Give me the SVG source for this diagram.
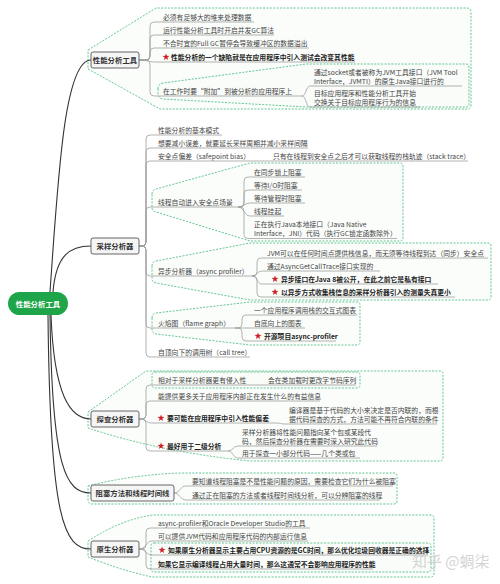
<svg xmlns="http://www.w3.org/2000/svg" width="500" height="584" viewBox="0 0 500 584">
<defs>
<style>
.t{font-family:"Noto Sans CJK SC","Noto Sans",sans-serif;font-size:6.8px;fill:#444}
.b{font-weight:bold;fill:#222}
.ul{stroke:#a0a0a0;stroke-width:0.8;fill:none}
.cn{stroke:#a0a0a0;stroke-width:0.8;fill:none}
.main{stroke:#333;stroke-width:1.1;fill:none}
.bd{stroke:#3cb878;stroke-width:0.8;stroke-dasharray:2 1.4;fill:#f8fcf9;fill-opacity:0.6}
.box{fill:#f5f5f5;stroke:#666;stroke-width:1}
.bt{font-family:"Noto Sans CJK SC","Noto Sans",sans-serif;font-size:7.4px;font-weight:bold;fill:#333;text-anchor:middle}
.star{fill:#d0202a}
</style>
<polygon id="star" points="0,-3.6 0.85,-1.17 3.42,-1.11 1.38,0.45 2.12,2.91 0,1.45 -2.12,2.91 -1.38,0.45 -3.42,-1.11 -0.85,-1.17"/>
</defs>
<rect width="500" height="584" fill="#fff"/>

<g id="boundaries">
<path class="bd" d="M88 50 L156 8 H467 Q471 8 471 12 V105 Q471 109 467 109 H160 L88 69 Z"/>
<path class="bd" d="M158 89 Q158 84 163 83 L306 64 H466 Q469 64 469 67 V104 Q469 107 466 107 H306 L163 99 Q158 98 158 94 Z"/>
<path class="bd" d="M152 194 Q152 190 156 189 L250 163 H400 Q403 163 403 166 V238 Q403 241 400 241 H250 L156 212 Q152 211 152 208 Z"/>
<path class="bd" d="M152 266 Q152 262 156 261 L250 243 H488 Q491 243 491 246 V297 Q491 300 488 300 H250 L156 283 Q152 282 152 279 Z"/>
<path class="bd" d="M152 318 Q152 314 156 313 L250 302 H357 Q360 302 360 305 V342 Q360 345 357 345 H250 L156 334 Q152 333 152 330 Z"/>
<path class="bd" d="M88 412 L146 371 H440 Q443 371 443 374 V458 Q443 461 440 461 H250 Q160 452 88 428 Z"/>
<path class="bd" d="M155 372 H357 Q360 372 360 375 V385 Q360 388 357 388 H155 Q152 388 152 385 V375 Q152 372 155 372 Z"/>
<path class="bd" d="M88 486 Q130 475 180 473 H394 Q397 473 397 476 V501 Q397 504 394 504 H92 Q88 504 88 500 Z"/>
<path class="bd" d="M88 541 Q120 520 152 515 H430 Q434 515 434 518 V574 Q434 577 430 577 H152 Q120 570 88 557 Z"/>
<path class="bd" d="M154 543 H428 Q431 543 431 546 V569 Q431 572 428 572 H154 Q151 572 151 569 V546 Q151 543 154 543 Z"/>
</g>

<g id="connectors">
<path class="main" d="M50 292 C58 180 64 60 91 60"/>
<path class="main" d="M53 292 C56 255 70 246 91 246"/>
<path class="main" d="M51 315 C54 395 70 419 91 419"/>
<path class="main" d="M50 315 C52 470 66 493 91 493"/>
<path class="main" d="M48 315 C50 520 64 549 91 549"/>
<path class="cn" d="M139 60 H146 Q150 60 150 56 V26 Q150 22 154 22 H156"/>
<path class="cn" d="M139 60 H146 Q150 60 150 56 V39 Q150 35 154 35 H156"/>
<path class="cn" d="M139 60 H146 Q150 60 150 56 V52 Q150 48 154 48 H156"/>
<path class="cn" d="M139 60 C148 60 148 62 156 62"/>
<path class="cn" d="M139 60 H146 Q150 60 150 64 V92 Q150 96 154 96 H156"/>
<path class="cn" d="M302 96 C306 96 306 86 310 86"/>
<path class="cn" d="M302 96 C306 96 306 107 310 107"/>
<path class="cn" d="M139 246 H142 Q146 246 146 242 V139 Q146 135 150 135 H152"/>
<path class="cn" d="M139 246 H142 Q146 246 146 242 V152 Q146 148 150 148 H152"/>
<path class="cn" d="M139 246 H142 Q146 246 146 242 V165 Q146 161 150 161 H152"/>
<path class="cn" d="M139 246 H142 Q146 246 146 242 V211 Q146 207 150 207 H152"/>
<path class="cn" d="M139 246 H142 Q146 246 146 250 V272 Q146 276 150 276 H152"/>
<path class="cn" d="M139 246 H142 Q146 246 146 250 V324 Q146 328 150 328 H152"/>
<path class="cn" d="M139 246 H142 Q146 246 146 250 V353 Q146 357 150 357 H152"/>
<path class="cn" d="M252 161 H262"/>
<path class="cn" d="M238 207 H240 Q244 207 244 203 V181 Q244 177 248 177 H250"/>
<path class="cn" d="M238 207 H240 Q244 207 244 203 V194 Q244 190 248 190 H250"/>
<path class="cn" d="M238 207 C243 207 245 203 250 203"/>
<path class="cn" d="M238 207 C244 207 244 216 250 216"/>
<path class="cn" d="M238 207 H240 Q244 207 244 211 V234.5 Q244 238.5 248 238.5 H250"/>
<path class="cn" d="M252 276 H253 Q257 276 257 272 V262 Q257 258 261 258 H262"/>
<path class="cn" d="M252 276 C257 276 257 271 262 271"/>
<path class="cn" d="M252 276 C257 276 257 284 262 284"/>
<path class="cn" d="M252 276 H253 Q257 276 257 280 V293 Q257 297 261 297 H262"/>
<path class="cn" d="M235 328 H238 Q242 328 242 324 V319 Q242 315 246 315 H249"/>
<path class="cn" d="M235 328 H249"/>
<path class="cn" d="M235 328 H238 Q242 328 242 332 V337 Q242 341 246 341 H249"/>
<path class="cn" d="M139 419 H142 Q146 419 146 415 V389 Q146 385 150 385 H152"/>
<path class="cn" d="M139 419 H142 Q146 419 146 415 V405 Q146 401 150 401 H152"/>
<path class="cn" d="M139 419 C146 419 146 423 152 423"/>
<path class="cn" d="M139 419 H142 Q146 419 146 423 V447 Q146 451 150 451 H152"/>
<path class="cn" d="M248 385 H262"/>
<path class="cn" d="M276 423 C280 423 281 424 285 424"/>
<path class="cn" d="M228 451 C233 451 233 446 238 446"/>
<path class="cn" d="M228 451 C233 451 233 458 238 458"/>
<path class="cn" d="M174 493 C180 493 180 486 186 486"/>
<path class="cn" d="M174 493 C180 493 180 500 186 500"/>
<path class="cn" d="M139 549 H142 Q146 549 146 545 V532 Q146 528 150 528 H152"/>
<path class="cn" d="M139 549 C146 549 146 541 152 541"/>
<path class="cn" d="M139 549 C146 549 146 555 152 555"/>
<path class="cn" d="M139 549 H142 Q146 549 146 553 V565 Q146 569 150 569 H152"/>
</g>

<g id="n-root">
<rect x="8" y="292" width="60" height="23" rx="11.5" fill="#1fa549"/>
<text x="38" y="306.5" class="bt" style="fill:#fff">性能分析工具</text>
</g>

<g id="n-b1">
<rect class="box" x="91" y="52" width="48" height="16" rx="2"/>
<text x="115" y="62.7" class="bt">性能分析工具</text>
</g>
<g id="n-b1-1"><text class="t" x="163" y="19.5">必须有足够大的堆来处理数据</text><path class="ul" d="M156 22 H254"/></g>
<g id="n-b1-2"><text class="t" x="163" y="32.5">运行性能分析工具时开启并发GC算法</text><path class="ul" d="M156 35 H274"/></g>
<g id="n-b1-3"><text class="t" x="163" y="45.5">不合时宜的Full GC暂停会导致缓冲区的数据溢出</text><path class="ul" d="M156 48 H309"/></g>
<g id="n-b1-4"><use href="#star" class="star" x="166" y="57"/><text class="t b" x="171" y="59.5">性能分析的一个缺陷就是在应用程序中引入测试会改变其性能</text><path class="ul" d="M156 62 H355"/></g>
<g id="n-b1-5"><text class="t" x="163" y="93.5">在工作时要“附加”到被分析的应用程序上</text><path class="ul" d="M156 96 H302"/></g>
<g id="n-b1-5-1"><text class="t" x="314" y="74.5">通过socket或者被称为JVM工具接口（JVM Tool</text><text class="t" x="314" y="83.5">Interface，JVMTI）的原生Java接口进行的</text><path class="ul" d="M310 86 H462"/></g>
<g id="n-b1-5-2"><text class="t" x="314" y="95.5">目标应用程序和性能分析工具开始</text><text class="t" x="314" y="104.5">交换关于目标应用程序行为的信息</text><path class="ul" d="M310 107 H420"/></g>

<g id="n-b2">
<rect class="box" x="91" y="238" width="48" height="16" rx="2"/>
<text x="115" y="248.7" class="bt">采样分析器</text>
</g>
<g id="n-b2-1"><text class="t" x="158" y="132.5">性能分析的基本模式</text><path class="ul" d="M152 135 H222"/></g>
<g id="n-b2-2"><text class="t" x="158" y="145.5">想要减小误差，就要延长采样周期并减小采样间隔</text><path class="ul" d="M152 148 H308"/></g>
<g id="n-b2-3"><text class="t" x="158" y="158.5">安全点偏差（safepoint bias）</text><path class="ul" d="M152 161 H252"/></g>
<g id="n-b2-3-1"><text class="t" x="273" y="158.5">只有在线程到安全点之后才可以获取线程的栈轨迹（stack trace）</text><path class="ul" d="M262 161 H468"/></g>
<g id="n-b2-4"><text class="t" x="158" y="204.5">线程自动进入安全点场景</text><path class="ul" d="M152 207 H238"/></g>
<g id="n-b2-4-1"><text class="t" x="254" y="174.5">在同步锁上阻塞</text><path class="ul" d="M250 177 H305"/></g>
<g id="n-b2-4-2"><text class="t" x="254" y="187.5">等待I/O时阻塞</text><path class="ul" d="M250 190 H302"/></g>
<g id="n-b2-4-3"><text class="t" x="254" y="200.5">等待管程时阻塞</text><path class="ul" d="M250 203 H305"/></g>
<g id="n-b2-4-4"><text class="t" x="254" y="213.5">线程挂起</text><path class="ul" d="M250 216 H284"/></g>
<g id="n-b2-4-5"><text class="t" x="254" y="226.5">正在执行Java本地接口（Java Native</text><text class="t" x="254" y="235.5">Interface，JNI）代码（执行GC锁定函数除外）</text><path class="ul" d="M250 238.5 H397"/></g>
<g id="n-b2-5"><text class="t" x="158" y="273.5">异步分析器（async profiler）</text><path class="ul" d="M152 276 H252"/></g>
<g id="n-b2-5-1"><text class="t" x="267" y="255.5">JVM可以在任何时间点提供栈信息，而无须等待线程到达（同步）安全点</text><path class="ul" d="M262 258 H488"/></g>
<g id="n-b2-5-2"><text class="t" x="267" y="268.5">通过AsyncGetCallTrace接口实现的</text><path class="ul" d="M262 271 H380"/></g>
<g id="n-b2-5-3"><use href="#star" class="star" x="275" y="279"/><text class="t b" x="281" y="281.5">异步接口在Java 8被公开，在此之前它是私有接口</text><path class="ul" d="M262 284 H438"/></g>
<g id="n-b2-5-4"><use href="#star" class="star" x="275" y="292"/><text class="t b" x="281" y="294.5">以异步方式收集栈信息的采样分析器引入的测量失真更小</text><path class="ul" d="M262 297 H455"/></g>
<g id="n-b2-6"><text class="t" x="158" y="325.5">火焰图（flame graph）</text><path class="ul" d="M152 328 H235"/></g>
<g id="n-b2-6-1"><text class="t" x="254" y="312.5">一个应用程序调用栈的交互式图表</text><path class="ul" d="M249 315 H357"/></g>
<g id="n-b2-6-2"><text class="t" x="254" y="325.5">自底向上的图表</text><path class="ul" d="M249 328 H305"/></g>
<g id="n-b2-6-3"><use href="#star" class="star" x="258" y="336"/><text class="t b" x="264" y="338.5">开源项目async-profiler</text><path class="ul" d="M249 341 H336"/></g>
<g id="n-b2-7"><text class="t" x="158" y="354.5">自顶向下的调用树（call tree）</text><path class="ul" d="M152 357 H250"/></g>

<g id="n-b3">
<rect class="box" x="91" y="411" width="48" height="16" rx="2"/>
<text x="115" y="421.7" class="bt">探查分析器</text>
</g>
<g id="n-b3-1"><text class="t" x="158" y="382.5">相对于采样分析器更有侵入性</text><path class="ul" d="M152 385 H248"/></g>
<g id="n-b3-1-1"><text class="t" x="268" y="382.5">会在类加载时更改字节码序列</text><path class="ul" d="M262 385 H356"/></g>
<g id="n-b3-2"><text class="t" x="158" y="398.5">能提供更多关于应用程序内部正在发生什么的有益信息</text><path class="ul" d="M152 401 H320"/></g>
<g id="n-b3-3"><use href="#star" class="star" x="161" y="418"/><text class="t b" x="167" y="420.5">要可能在应用程序中引入性能偏差</text><path class="ul" d="M152 423 H276"/></g>
<g id="n-b3-3-1"><text class="t" x="289" y="412.5">编译器是基于代码的大小来决定是否内联的，而根</text><text class="t" x="289" y="421.5">据代码探查的方式，方法可能不再符合内联的条件</text><path class="ul" d="M285 424 H437"/></g>
<g id="n-b3-4"><use href="#star" class="star" x="161" y="446"/><text class="t b" x="167" y="448.5">最好用于二级分析</text><path class="ul" d="M152 451 H228"/></g>
<g id="n-b3-4-1"><text class="t" x="242" y="434.5">采样分析器将性能问题指向某个包或某段代</text><text class="t" x="242" y="443.5">码，然后探查分析器在需要时深入研究此代码</text><path class="ul" d="M238 446 H377"/></g>
<g id="n-b3-4-2"><text class="t" x="242" y="455.5">用于探查一小部分代码——几个类或包</text><path class="ul" d="M238 458 H360"/></g>

<g id="n-b4">
<rect class="box" x="91" y="485" width="83" height="16" rx="2"/>
<text x="132.5" y="495.7" class="bt">阻塞方法和线程时间线</text>
</g>
<g id="n-b4-1"><text class="t" x="192" y="483.5">要知道线程阻塞是不是性能问题的原因，需要检查它们为什么被阻塞</text><path class="ul" d="M186 486 H393"/></g>
<g id="n-b4-2"><text class="t" x="192" y="497.5">通过正在阻塞的方法或者线程时间线分析，可以分辨阻塞的线程</text><path class="ul" d="M186 500 H380"/></g>

<g id="n-b5">
<rect class="box" x="91" y="541" width="48" height="16" rx="2"/>
<text x="115" y="551.7" class="bt">原生分析器</text>
</g>
<g id="n-b5-1"><text class="t" x="158" y="525.5">async-profiler和Oracle Developer Studio的工具</text><path class="ul" d="M152 528 H310"/></g>
<g id="n-b5-2"><text class="t" x="158" y="538.5">可以提供JVM代码和应用程序代码的内部运行信息</text><path class="ul" d="M152 541 H308"/></g>
<g id="n-b5-3"><use href="#star" class="star" x="162" y="550"/><text class="t b" x="168" y="552.5">如果原生分析器显示主要占用CPU资源的是GC时间，那么优化垃圾回收器是正确的选择</text><path class="ul" d="M152 555 H428"/></g>
<g id="n-b5-4"><text class="t b" x="158" y="566.5">如果它显示编译线程占用大量时间，那么这通常不会影响应用程序的性能</text><path class="ul" d="M152 569 H373"/></g>

<text x="412" y="567" style="font-family:'Noto Sans CJK SC',sans-serif;font-size:15px;fill:#d4d4d4">知乎 @蜩柒</text>
</svg>
